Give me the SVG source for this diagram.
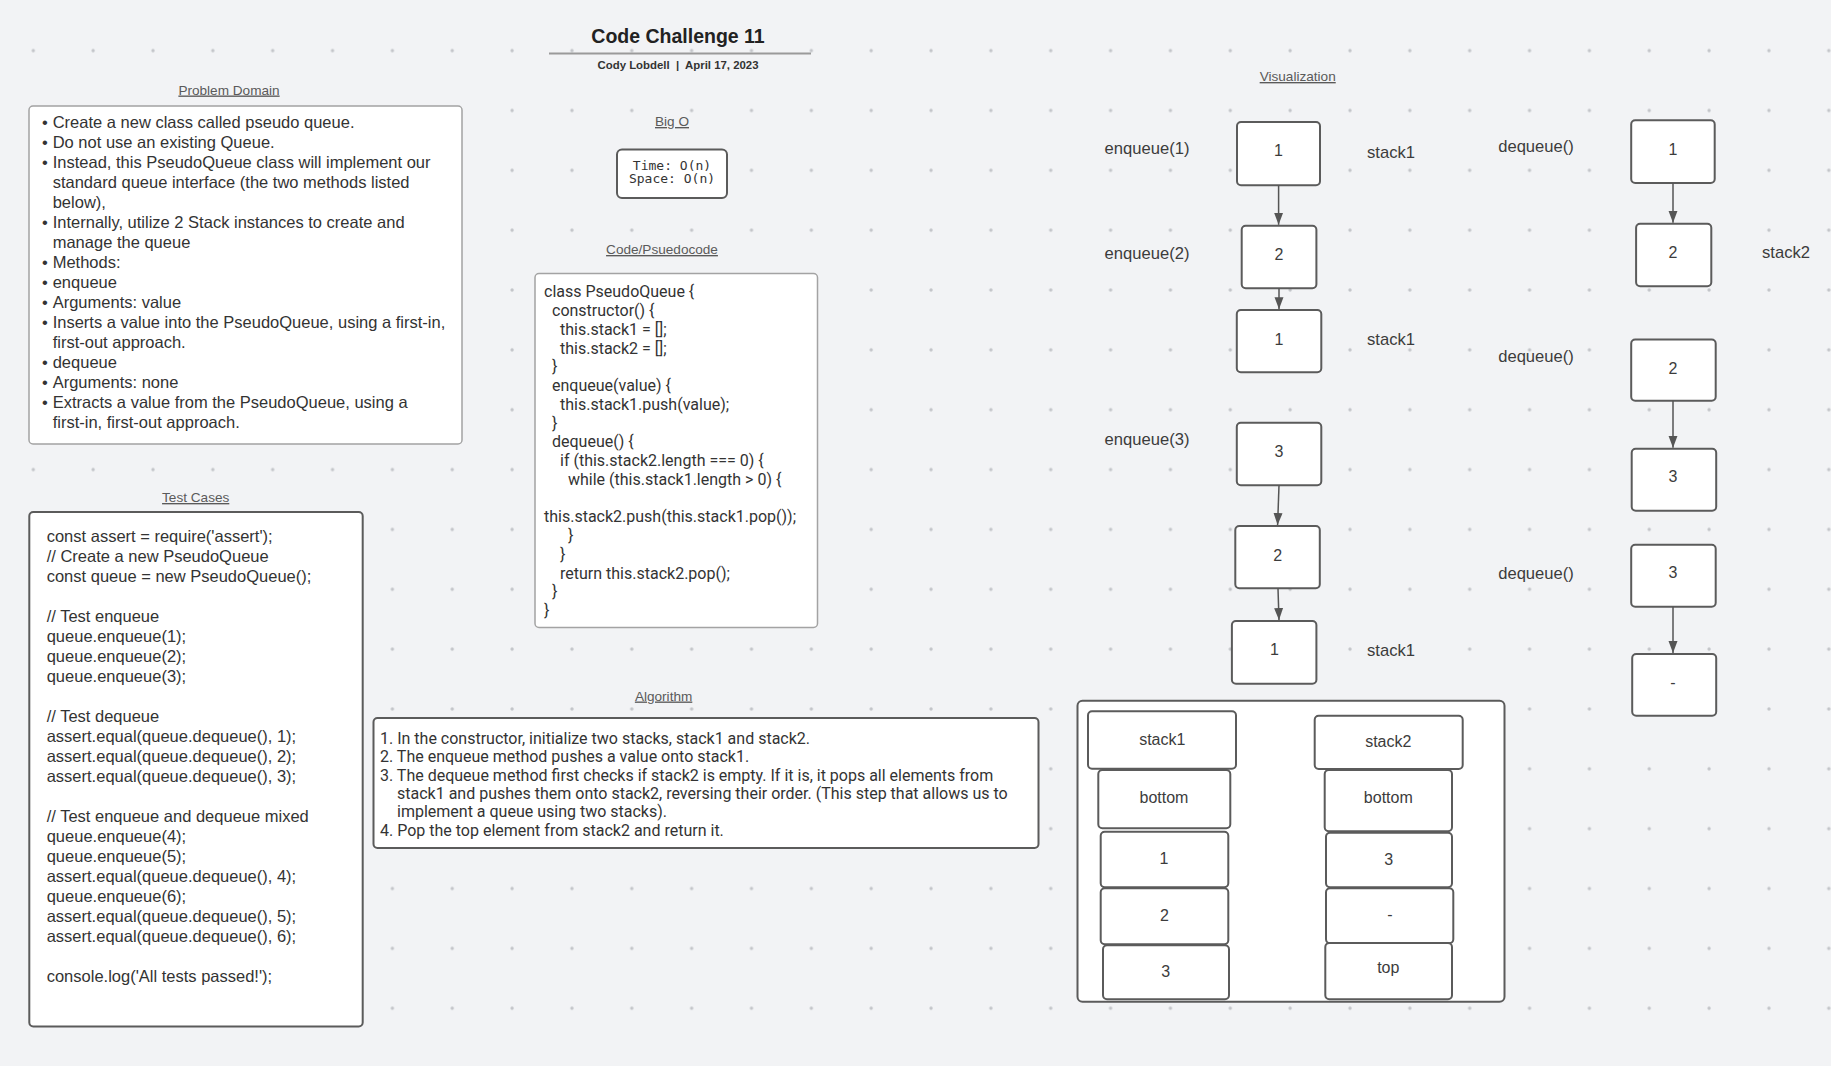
<svg xmlns="http://www.w3.org/2000/svg" width="1831" height="1066" viewBox="0 0 1831 1066">
<style>
.box{fill:#fff;stroke:#5b5b5b;stroke-width:2}
.lbox{fill:#fff;stroke:#a3a3a3;stroke-width:1.5}
.h{font-family:"Liberation Sans",Arial,sans-serif;font-size:13.6px;fill:#5a5a5a;text-decoration:underline;text-anchor:middle}
.t{font-family:"Liberation Sans",Arial,sans-serif;font-size:16.5px;fill:#333}
.code{font-family:Roboto,"Liberation Sans",sans-serif;font-size:16px;fill:#333}
.alg{font-family:Roboto,"Liberation Sans",sans-serif;font-size:16px;fill:#333}
.v{font-family:"Liberation Sans",Arial,sans-serif;font-size:16px;fill:#3c3c3c;text-anchor:middle}
.lbl{font-size:16.6px}
.mono{font-family:"DejaVu Sans Mono",monospace;font-size:13px;fill:#333;text-anchor:middle}
.conn{stroke:#555;stroke-width:1.5;fill:none;marker-end:url(#arr)}
</style>
<defs>
<pattern id="grid" x="3.3" y="20.7" width="59.85" height="59.85" patternUnits="userSpaceOnUse">
<circle cx="30" cy="30" r="1.7" fill="#c3c5c9"/>
</pattern>
<marker id="arr" markerUnits="userSpaceOnUse" markerWidth="12" markerHeight="10" refX="12" refY="5" orient="auto">
<path d="M0,0.5 L12,5 L0,9.5 Z" fill="#555"/>
</marker>
</defs>
<rect width="1831" height="1066" fill="#f2f3f5"/>
<rect width="1831" height="1066" fill="url(#grid)"/>

<g id="title">
<line x1="549" y1="53.5" x2="811" y2="53.5" stroke="#9a9a9a" stroke-width="2"/>
<text x="678" y="43" text-anchor="middle" font-family="Liberation Sans, Arial, sans-serif" font-size="19.5" font-weight="bold" fill="#222">Code Challenge 11</text>
<text x="678" y="68.5" text-anchor="middle" font-family="Liberation Sans, Arial, sans-serif" font-size="11.4" font-weight="bold" fill="#333" style="white-space:pre">Cody Lobdell  |  April 17, 2023</text>
</g>

<g id="problem-domain">
<text class="h" x="229" y="94.5">Problem Domain</text>
<rect class="lbox" x="29" y="106" width="433" height="338" rx="4"/>
<g class="t">
<text x="42" y="128">•</text><text x="52.7" y="128">Create a new class called pseudo queue.</text>
<text x="42" y="148">•</text><text x="52.7" y="148">Do not use an existing Queue.</text>
<text x="42" y="168">•</text><text x="52.7" y="168">Instead, this PseudoQueue class will implement our</text>
<text x="52.7" y="188">standard queue interface (the two methods listed</text>
<text x="52.7" y="208">below),</text>
<text x="42" y="228">•</text><text x="52.7" y="228">Internally, utilize 2 Stack instances to create and</text>
<text x="52.7" y="248">manage the queue</text>
<text x="42" y="268">•</text><text x="52.7" y="268">Methods:</text>
<text x="42" y="288">•</text><text x="52.7" y="288">enqueue</text>
<text x="42" y="308">•</text><text x="52.7" y="308">Arguments: value</text>
<text x="42" y="328">•</text><text x="52.7" y="328">Inserts a value into the PseudoQueue, using a first-in,</text>
<text x="52.7" y="348">first-out approach.</text>
<text x="42" y="368">•</text><text x="52.7" y="368">dequeue</text>
<text x="42" y="388">•</text><text x="52.7" y="388">Arguments: none</text>
<text x="42" y="408">•</text><text x="52.7" y="408">Extracts a value from the PseudoQueue, using a</text>
<text x="52.7" y="428">first-in, first-out approach.</text>
</g>
</g>

<g id="big-o">
<text class="h" x="672" y="126">Big O</text>
<rect class="box" x="617" y="149.5" width="110" height="48.5" rx="5"/>
<text class="mono" x="672" y="170" style="white-space:pre">Time: O(n)</text>
<text class="mono" x="672" y="183" style="white-space:pre">Space: O(n)</text>
</g>

<g id="code">
<text class="h" x="662" y="254">Code/Psuedocode</text>
<rect class="lbox" x="535" y="273.5" width="282.5" height="354" rx="4"/>
<g class="code">
<text x="544" y="297.4">class PseudoQueue {</text>
<text x="552" y="316.1">constructor() {</text>
<text x="560" y="334.9">this.stack1 = [];</text>
<text x="560" y="353.6">this.stack2 = [];</text>
<text x="552" y="372.4">}</text>
<text x="552" y="391.1">enqueue(value) {</text>
<text x="560" y="409.8">this.stack1.push(value);</text>
<text x="552" y="428.6">}</text>
<text x="552" y="447.3">dequeue() {</text>
<text x="560" y="466.1">if (this.stack2.length === 0) {</text>
<text x="568" y="484.8">while (this.stack1.length &gt; 0) {</text>
<text x="544" y="522.3">this.stack2.push(this.stack1.pop());</text>
<text x="568" y="541">}</text>
<text x="560" y="559.8">}</text>
<text x="560" y="578.5">return this.stack2.pop();</text>
<text x="552" y="597.2">}</text>
<text x="544" y="616">}</text>
</g>
</g>

<g id="test-cases">
<text class="h" x="195.7" y="502">Test Cases</text>
<rect class="box" x="29.3" y="512" width="333.4" height="514.4" rx="4"/>
<g class="t">
<text x="46.7" y="542">const assert = require('assert');</text>
<text x="46.7" y="562">// Create a new PseudoQueue</text>
<text x="46.7" y="582">const queue = new PseudoQueue();</text>
<text x="46.7" y="622">// Test enqueue</text>
<text x="46.7" y="642">queue.enqueue(1);</text>
<text x="46.7" y="662">queue.enqueue(2);</text>
<text x="46.7" y="682">queue.enqueue(3);</text>
<text x="46.7" y="722">// Test dequeue</text>
<text x="46.7" y="742">assert.equal(queue.dequeue(), 1);</text>
<text x="46.7" y="762">assert.equal(queue.dequeue(), 2);</text>
<text x="46.7" y="782">assert.equal(queue.dequeue(), 3);</text>
<text x="46.7" y="822">// Test enqueue and dequeue mixed</text>
<text x="46.7" y="842">queue.enqueue(4);</text>
<text x="46.7" y="862">queue.enqueue(5);</text>
<text x="46.7" y="882">assert.equal(queue.dequeue(), 4);</text>
<text x="46.7" y="902">queue.enqueue(6);</text>
<text x="46.7" y="922">assert.equal(queue.dequeue(), 5);</text>
<text x="46.7" y="942">assert.equal(queue.dequeue(), 6);</text>
<text x="46.7" y="982">console.log('All tests passed!');</text>
</g>
</g>

<g id="algorithm">
<text class="h" x="663.6" y="700.5">Algorithm</text>
<rect class="box" x="373.5" y="718" width="665" height="130" rx="4"/>
<g class="alg">
<text x="380" y="743.6">1. In the constructor, initialize two stacks, stack1 and stack2.</text>
<text x="380" y="762">2. The enqueue method pushes a value onto stack1.</text>
<text x="380" y="780.5">3. The dequeue method first checks if stack2 is empty. If it is, it pops all elements from</text>
<text x="397" y="799">stack1 and pushes them onto stack2, reversing their order. (This step that allows us to</text>
<text x="397" y="817.4">implement a queue using two stacks).</text>
<text x="380" y="835.9">4. Pop the top element from stack2 and return it.</text>
</g>
</g>

<g id="visualization">
<text class="h" x="1297.7" y="81">Visualization</text>
<g class="v lbl">
<text x="1147" y="154">enqueue(1)</text>
<text x="1391" y="158">stack1</text>
<text x="1536" y="152">dequeue()</text>
<text x="1147" y="259.3">enqueue(2)</text>
<text x="1786" y="258">stack2</text>
<text x="1391" y="345">stack1</text>
<text x="1536" y="361.5">dequeue()</text>
<text x="1147" y="445">enqueue(3)</text>
<text x="1536" y="578.8">dequeue()</text>
<text x="1391" y="656">stack1</text>
</g>
</g>

<g id="nodeA1"><rect class="box" x="1237" y="122" width="83" height="63.3" rx="4"/><text class="v" x="1278.5" y="156.4">1</text></g>
<g id="nodeA2"><rect class="box" x="1241.7" y="225.7" width="74.7" height="62.6" rx="4"/><text class="v" x="1279" y="260">2</text></g>
<g id="nodeA3"><rect class="box" x="1236.8" y="310" width="84.5" height="62.3" rx="4"/><text class="v" x="1279" y="345">1</text></g>
<g id="nodeA4"><rect class="box" x="1236.8" y="422.7" width="84.5" height="62.6" rx="4"/><text class="v" x="1279" y="456.7">3</text></g>
<g id="nodeA5"><rect class="box" x="1235.3" y="526" width="84.5" height="62.3" rx="4"/><text class="v" x="1277.6" y="560.7">2</text></g>
<g id="nodeA6"><rect class="box" x="1231.9" y="621" width="84.5" height="62.7" rx="4"/><text class="v" x="1274.4" y="655">1</text></g>
<g id="nodeB1"><rect class="box" x="1631.2" y="120.3" width="83.5" height="62.7" rx="4"/><text class="v" x="1673" y="154.7">1</text></g>
<g id="nodeB2"><rect class="box" x="1636.1" y="223.7" width="75.2" height="62.6" rx="4"/><text class="v" x="1673" y="258.4">2</text></g>
<g id="nodeB3"><rect class="box" x="1631.2" y="339.5" width="84.5" height="61.2" rx="4"/><text class="v" x="1673" y="374">2</text></g>
<g id="nodeB4"><rect class="box" x="1631.7" y="448.7" width="84.5" height="62" rx="4"/><text class="v" x="1673" y="482.4">3</text></g>
<g id="nodeB5"><rect class="box" x="1631.2" y="544.7" width="84.5" height="62" rx="4"/><text class="v" x="1673" y="578.4">3</text></g>
<g id="nodeB6"><rect class="box" x="1632.2" y="654" width="84" height="61.7" rx="4"/><text class="v" x="1673" y="687.5">-</text></g>

<g id="stacks">
<rect class="box" x="1077.5" y="700.7" width="427" height="301" rx="5"/>
<g id="s1-head"><rect class="box" x="1088" y="711.3" width="148" height="57.4" rx="4"/><text class="v" x="1162.3" y="744.5">stack1</text></g>
<g id="s1-bottom"><rect class="box" x="1098.3" y="770" width="132" height="58.3" rx="4"/><text class="v" x="1164" y="803">bottom</text></g>
<g id="s1-1"><rect class="box" x="1100.7" y="831.7" width="127.6" height="55.6" rx="4"/><text class="v" x="1164" y="864">1</text></g>
<g id="s1-2"><rect class="box" x="1100.7" y="888.3" width="127.6" height="56" rx="4"/><text class="v" x="1164.5" y="921">2</text></g>
<g id="s1-3"><rect class="box" x="1103" y="945.3" width="126" height="54" rx="4"/><text class="v" x="1165.7" y="976.7">3</text></g>
<g id="s2-head"><rect class="box" x="1314.7" y="715.7" width="148" height="53.3" rx="4"/><text class="v" x="1388.3" y="747.3">stack2</text></g>
<g id="s2-bottom"><rect class="box" x="1324.7" y="770" width="127.3" height="61.3" rx="4"/><text class="v" x="1388.3" y="803">bottom</text></g>
<g id="s2-3"><rect class="box" x="1326" y="832.7" width="126" height="54.6" rx="4"/><text class="v" x="1388.7" y="864.7">3</text></g>
<g id="s2-dash"><rect class="box" x="1326" y="888.3" width="127.3" height="55" rx="4"/><text class="v" x="1390" y="920">-</text></g>
<g id="s2-top"><rect class="box" x="1325.3" y="943" width="126.7" height="56.3" rx="4"/><text class="v" x="1388.3" y="973">top</text></g>
</g>

<g id="connectors">
<line class="conn" x1="1278.6" y1="185.3" x2="1278.6" y2="224.8"/>
<line class="conn" x1="1279" y1="288.3" x2="1279" y2="309.2"/>
<line class="conn" x1="1673" y1="183" x2="1673" y2="222.8"/>
<line class="conn" x1="1673" y1="400.7" x2="1673" y2="447.8"/>
<line class="conn" x1="1279" y1="485.3" x2="1277.6" y2="525"/>
<line class="conn" x1="1278" y1="588.3" x2="1279" y2="620"/>
<line class="conn" x1="1673" y1="606.7" x2="1673" y2="653"/>
</g>
</svg>
